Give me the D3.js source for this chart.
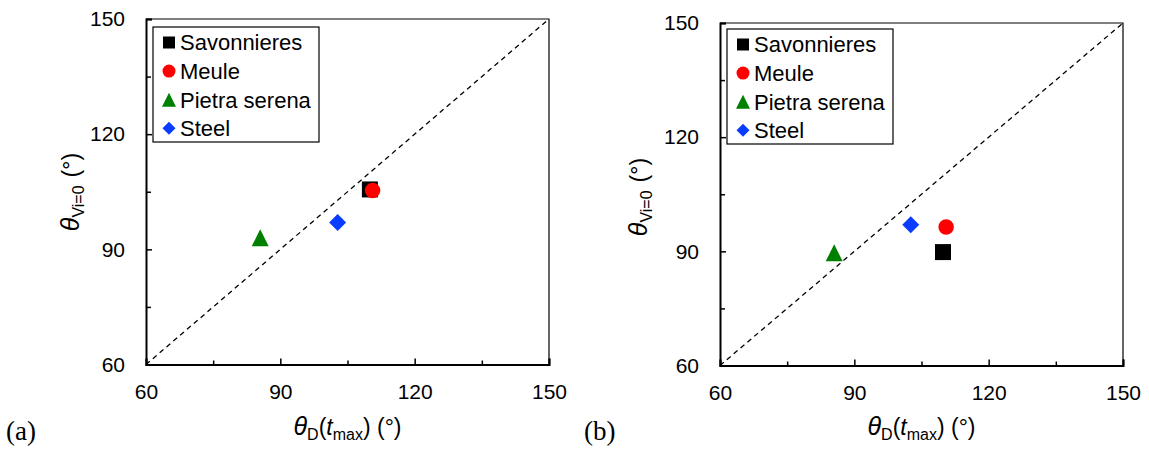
<!DOCTYPE html>
<html>
<head>
<meta charset="utf-8">
<script src="https://cdn.jsdelivr.net/npm/d3@7"></script>
<style>
  html, body { margin: 0; padding: 0; background: #fff; }
  svg { display: block; }
  text { font-family: "Liberation Sans", Arial, sans-serif; fill: #000; }
</style>
</head>
<body>
<svg id="chart" width="1149" height="450"></svg>
<script>
// ---- data ----
const categories = ["Savonnieres", "Meule", "Pietra serena", "Steel"];
const colors = ["#000000", "#ff0000", "#008000", "#0a3cff"];
const shapes = ["square", "circle", "triangle", "diamond"];
const panelA_x = [110.0, 110.6, 85.5, 102.8];
const panelA_y = [105.6, 105.3, 93.0, 97.0];
const panelB_x = [109.8, 110.5, 85.5, 102.6];
const panelB_y = [89.8, 96.4, 89.6, 97.0];
const majorTicks = [60, 90, 120, 150];
const minorTicks = [75, 105, 135];
const domain = [60, 150];
const panelLabels = ["(a)", "(b)"];

const svg = d3.select("#chart");

function markerPath(shape, s) {
  const h = s / 2;
  if (shape === "square") return `M${-h},${-h}H${h}V${h}H${-h}Z`;
  if (shape === "circle") return `M${h},0A${h},${h} 0 1,1 ${-h},0A${h},${h} 0 1,1 ${h},0Z`;
  if (shape === "triangle") return `M0,${-h}L${h},${h}L${-h},${h}Z`;
  if (shape === "diamond") return `M0,${-h}L${h},0L0,${h}L${-h},0Z`;
}
const plotSize = { square: 16, circle: 15.5, triangle: 17, diamond: 17 };
const legSize = { square: 12, circle: 13, triangle: 14, diamond: 13 };

function panel(cfg) {
  const { left, right, top, bottom, xs, ys, leg, ylab, xlabY, plab } = cfg;
  const x = d3.scaleLinear().domain(domain).range([left, right]);
  const y = d3.scaleLinear().domain(domain).range([bottom, top]);
  const g = svg.append("g");

  // dashed 1:1 line
  g.append("line")
    .attr("x1", x(60)).attr("y1", y(60)).attr("x2", x(150)).attr("y2", y(150))
    .attr("stroke", "#000").attr("stroke-width", 1.3).attr("stroke-dasharray", "5,4");

  // frame: top/right thin
  g.append("path")
    .attr("d", `M${x(60)},${y(150)}H${x(150)}V${y(60)}`)
    .attr("fill", "none").attr("stroke", "#000").attr("stroke-width", 1.2);

  // x axis major
  const xa = g.append("g").attr("transform", `translate(0,${bottom})`)
    .call(d3.axisBottom(x).tickValues(majorTicks).tickSize(-6).tickPadding(19.5).tickFormat(d3.format("d")));
  xa.selectAll("text").style("font-size", "21px").style("font-family", "Liberation Sans, Arial, sans-serif");
  xa.select(".domain").attr("stroke-width", 2);
  xa.selectAll(".tick line").attr("stroke-width", 1.5);
  const xm = g.append("g").attr("transform", `translate(0,${bottom})`)
    .call(d3.axisBottom(x).tickValues(minorTicks).tickSize(-4).tickFormat(""));
  xm.select(".domain").remove();
  xm.selectAll(".tick line").attr("stroke-width", 1.5);

  // y axis
  const ya = g.append("g").attr("transform", `translate(${left},0)`)
    .call(d3.axisLeft(y).tickValues(majorTicks).tickSize(-6).tickPadding(21).tickFormat(d3.format("d")));
  ya.selectAll("text").style("font-size", "21px").style("font-family", "Liberation Sans, Arial, sans-serif");
  ya.select(".domain").attr("stroke-width", 2);
  ya.selectAll(".tick line").attr("stroke-width", 1.5);
  const ym = g.append("g").attr("transform", `translate(${left},0)`)
    .call(d3.axisLeft(y).tickValues(minorTicks).tickSize(-5).tickFormat(""));
  ym.select(".domain").remove();
  ym.selectAll(".tick line").attr("stroke-width", 1.5);

  // points
  categories.forEach((c, i) => {
    g.append("path")
      .attr("d", markerPath(shapes[i], plotSize[shapes[i]]))
      .attr("transform", `translate(${x(xs[i])},${y(ys[i])})`)
      .attr("fill", colors[i]);
  });

  // legend
  const lg = g.append("g");
  lg.append("rect").attr("x", leg.x).attr("y", leg.y).attr("width", 166).attr("height", 115)
    .attr("fill", "#fff").attr("stroke", "#000").attr("stroke-width", 1.2);
  categories.forEach((c, i) => {
    const cy = leg.y + 15.5 + i * 28.6;
    lg.append("path").attr("d", markerPath(shapes[i], legSize[shapes[i]]))
      .attr("transform", `translate(${leg.x + 16},${cy})`).attr("fill", colors[i]);
    lg.append("text").attr("x", leg.x + 27).attr("y", cy).attr("dy", "0.36em")
      .style("font-size", "22px").text(c);
  });

  // x label
  const xl = g.append("text").attr("x", (left + right) / 2).attr("y", xlabY)
    .attr("text-anchor", "middle").style("font-size", "23px");
  xl.append("tspan").style("font-style", "italic").style("font-size", "25px").text("θ");
  xl.append("tspan").attr("dy", 5).style("font-size", "16px").text("D");
  xl.append("tspan").attr("dy", -5).text("(");
  xl.append("tspan").style("font-style", "italic").text("t");
  xl.append("tspan").attr("dy", 5).style("font-size", "16px").text("max");
  xl.append("tspan").attr("dy", -5).text(") (°)");

  // y label
  const yl = g.append("text")
    .attr("transform", `translate(${ylab.x},${ylab.y}) rotate(-90)`)
    .attr("text-anchor", "middle").style("font-size", "23px");
  yl.append("tspan").style("font-style", "italic").style("font-size", "25px").text("θ");
  yl.append("tspan").attr("dy", 5).style("font-size", "16px").text("Vi=0");
  yl.append("tspan").attr("dy", -5).attr("dx", 8).text("(°)");

  // panel label
  g.append("text").attr("x", plab.x).attr("y", plab.y)
    .style("font-family", "Liberation Serif, 'Times New Roman', serif").style("font-size", "27px")
    .text(plab.t);
}

panel({ left: 146, right: 549, top: 19, bottom: 364.5, xs: panelA_x, ys: panelA_y,
        leg: { x: 153, y: 27 }, ylab: { x: 79, y: 192 }, xlabY: 435, plab: { x: 6, y: 440, t: panelLabels[0] } });
panel({ left: 720, right: 1123, top: 23, bottom: 365.5, xs: panelB_x, ys: panelB_y,
        leg: { x: 727, y: 29 }, ylab: { x: 647, y: 197 }, xlabY: 435, plab: { x: 584, y: 440, t: panelLabels[1] } });
</script>
</body>
</html>
